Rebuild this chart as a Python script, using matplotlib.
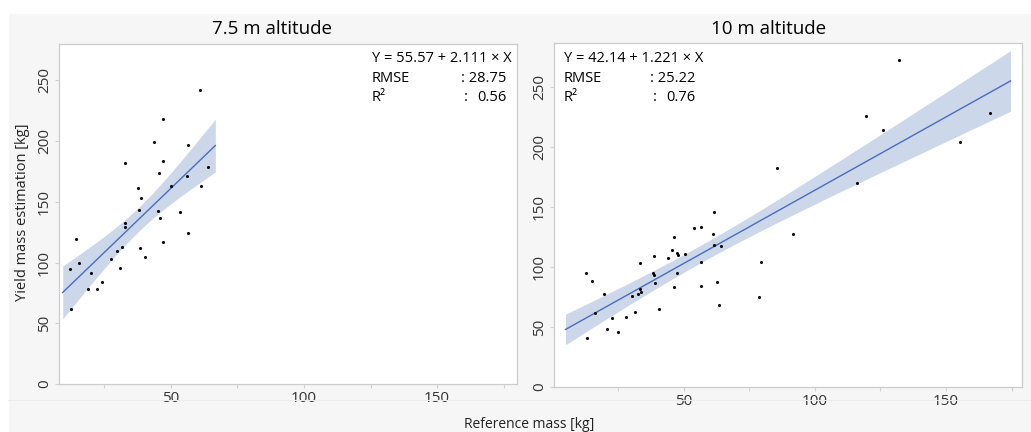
import numpy as np
import matplotlib.pyplot as plt
from matplotlib.patches import Rectangle
from matplotlib.ticker import MultipleLocator

plt.rcParams['font.family'] = ['Open Sans', 'DejaVu Sans']

# 7.5 m altitude: reference mass vs. estimated yield mass (kg)
ref_75 = [12.0, 12.5, 14.4, 15.5, 18.8, 20.0, 22.2, 24.3, 27.6, 29.7, 30.8, 31.8,
          32.9, 32.9, 32.9, 37.8, 38.7, 38.2, 38.3, 40.3, 43.8, 45.7, 45.0, 45.9,
          47.2, 47.0, 47.0, 50.0, 53.5, 56.4, 56.2, 56.5, 60.8, 61.4, 64.1]
est_75 = [94.8, 62.0, 119.8, 100.0, 78.0, 91.2, 78.3, 83.8, 103.3, 109.4, 95.4, 112.7,
          181.6, 132.2, 129.7, 161.0, 153.3, 143.2, 111.9, 104.7, 199.3, 173.4, 142.6, 136.9,
          218.5, 183.6, 117.1, 163.2, 141.8, 197.0, 171.5, 124.2, 241.8, 163.0, 178.6]

# 10 m altitude
ref_10 = [12.5, 14.9, 13.0, 16.0, 19.4, 20.5, 22.6, 24.7, 28.0, 31.2, 30.2, 32.3,
          33.3, 33.6, 33.3, 38.2, 38.5, 39.0, 38.5, 40.6, 44.0, 45.3, 46.1, 46.1,
          47.3, 47.6, 47.3, 50.3, 53.7, 56.6, 56.4, 56.6, 61.0, 61.6, 61.6, 64.2,
          62.7, 63.2, 78.5, 79.4, 85.5, 91.6, 115.9, 119.4, 126.0, 132.2, 155.5, 166.9]
est_10 = [94.7, 88.6, 41.1, 61.7, 77.8, 48.0, 57.8, 46.3, 58.6, 62.8, 76.1, 77.8,
          81.9, 79.1, 103.3, 95.5, 93.3, 86.7, 109.7, 65.0, 107.8, 114.4, 125.5, 83.3,
          112.2, 110.5, 95.5, 110.8, 132.8, 133.3, 104.7, 84.4, 127.8, 145.8, 118.3, 117.8,
          87.5, 68.0, 74.7, 104.2, 183.0, 127.8, 170.0, 226.3, 214.2, 272.5, 204.7, 228.8]

# regression stats as printed on the chart
fits = [
    dict(title='7.5 m altitude', x=ref_75, y=est_75, a=55.57, b=2.111, rmse=28.75, r2=0.56, t=2.035),
    dict(title='10 m altitude', x=ref_10, y=est_10, a=42.14, b=1.221, rmse=25.22, r2=0.76, t=2.013),
]

W, H = 1031, 432
fig = plt.figure(figsize=(W / 100, H / 100), dpi=100, facecolor='#f6f6f6')
# white strips along the top and left edge
fig.add_artist(Rectangle((0, 1 - 13 / H), 1, 13 / H, transform=fig.transFigure, color='white', zorder=0))
fig.add_artist(Rectangle((0, 0), 8 / W, 1, transform=fig.transFigure, color='white', zorder=0))
fig.add_artist(plt.Line2D([8 / W, 1], [1 - 400 / H] * 2, transform=fig.transFigure, color='#ececec', lw=0.8))


def px_rect(l, t, r, b):
    return [l / W, 1 - b / H, (r - l) / W, (b - t) / H]


axes = [fig.add_axes(px_rect(59, 44, 517, 384)), fig.add_axes(px_rect(554, 43, 1022, 387))]
xlims = [(8, 180), (0.4, 179)]
ylims = [(0, 280), (0, 287)]
title_x = [272, 769]
txt_pos = [(0.683, 0.884, 0.976), (0.021, 0.212, 0.303)]

for ax, f, xl, yl, tx, (x0, xc, x1) in zip(axes, fits, xlims, ylims, title_x, txt_pos):
    x = np.array(f['x'])
    y = np.array(f['y'])
    n = len(x)
    span = x.max() - x.min()
    xs = np.linspace(x.min() - 0.05 * span, x.max() + 0.05 * span, 100)
    ys = f['a'] + f['b'] * xs
    sxx = np.sum((x - x.mean()) ** 2)
    half = f['t'] * f['rmse'] * np.sqrt(1 / n + (xs - x.mean()) ** 2 / sxx)

    ax.fill_between(xs, ys - half, ys + half, color='#cdd7ea', lw=0, zorder=1)
    ax.plot(xs, ys, color='#4a6cc0', lw=1.0, zorder=2)
    ax.scatter(x, y, s=5, color='black', lw=0, zorder=3)

    ax.set_xlim(*xl)
    ax.set_ylim(*yl)
    ax.xaxis.set_major_locator(MultipleLocator(50))
    ax.xaxis.set_minor_locator(MultipleLocator(25))
    ax.yaxis.set_major_locator(MultipleLocator(50))
    ax.tick_params(which='both', direction='out', length=3, width=0.8, color='#d0d0d0',
                   labelsize=11, labelcolor='#333333', pad=2)
    ax.tick_params(axis='y', labelrotation=90)
    for lab in ax.get_yticklabels():
        lab.set_va('center')
    for s in ax.spines.values():
        s.set_color('#cccccc')
        s.set_linewidth(0.9)

    fig.text(tx / W, 1 - 29 / H, f['title'], ha='center', va='center', fontsize=13.5, color='black')

    kw = dict(transform=ax.transAxes, fontsize=10.5, color='black', va='center')
    ax.text(x0, 0.956, 'Y = %.2f + %.3f \u00d7 X' % (f['a'], f['b']), ha='left', **kw)
    ax.text(x0, 0.898, 'RMSE', ha='left', **kw)
    ax.text(x1, 0.898, ': %.2f' % f['rmse'], ha='right', **kw)
    ax.text(x0, 0.842, 'R\u00b2', ha='left', **kw)
    ax.text(xc, 0.842, ':', ha='left', **kw)
    ax.text(x1, 0.842, '%.2f' % f['r2'], ha='right', **kw)

fig.text(23 / W, 1 - 212 / H, 'Yield mass estimation [kg]', rotation=90, ha='center', va='center',
         fontsize=10.5, color='#222222')
fig.text(529 / W, 1 - 425 / H, 'Reference mass [kg]', ha='center', va='center', fontsize=10, color='#222222')

fig.savefig('out.png', dpi=100, facecolor=fig.get_facecolor())
